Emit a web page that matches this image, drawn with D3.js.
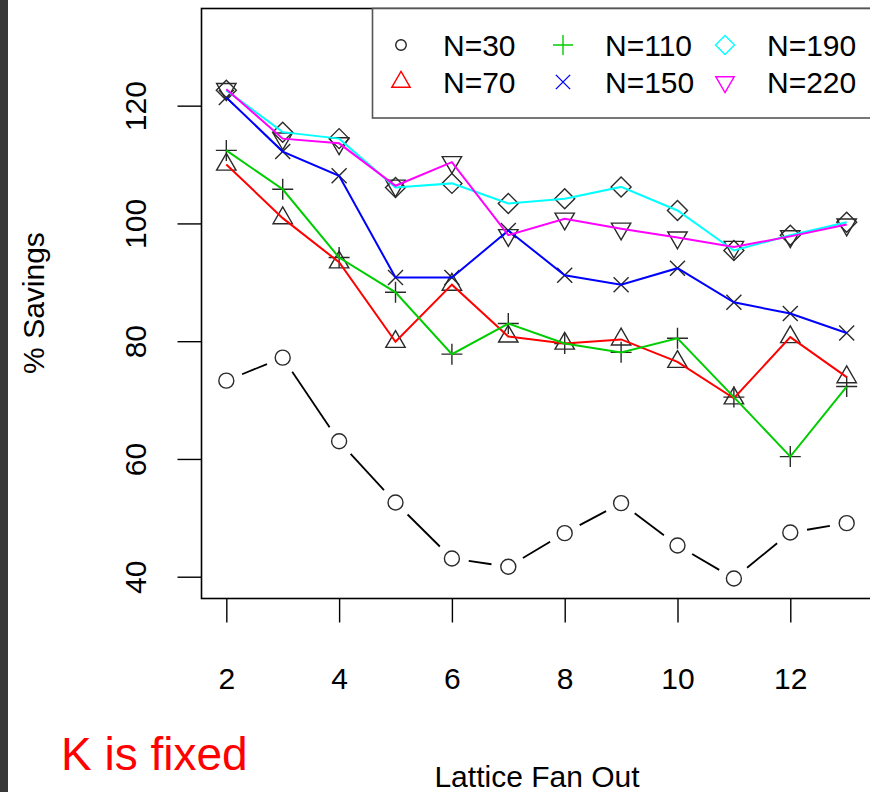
<!DOCTYPE html>
<html>
<head>
<meta charset="utf-8">
<script src="https://cdn.jsdelivr.net/npm/d3@7"></script>
<style>
  body { margin: 0; background: #fff; }
  text { font-family: "Liberation Sans", Arial, Helvetica, sans-serif; }
</style>
</head>
<body>
<div id="chart"></div>
<script>
// data
const fanOut = [2, 3, 4, 5, 6, 7, 8, 9, 10, 11, 12, 13];
const n30  = [73.3, 77.2, 63.0, 52.6, 43.1, 41.7, 47.4, 52.5, 45.3, 39.7, 47.5, 49.1];
const n70  = [110.0, 100.9, 93.4, 79.9, 89.6, 80.8, 79.6, 80.3, 76.5, 70.3, 80.7, 73.9];
const n110 = [112.4, 105.8, 94.2, 88.3, 77.8, 83.0, 79.6, 78.1, 80.5, 70.5, 60.4, 72.3];
const n150 = [121.4, 112.2, 108.1, 90.8, 90.8, 98.8, 91.2, 89.6, 92.4, 86.6, 84.7, 81.4];
const n190 = [122.6, 115.5, 114.4, 106.1, 106.8, 103.4, 104.2, 106.2, 102.2, 95.4, 98.0, 100.2];
const n220 = [122.8, 114.4, 113.6, 106.4, 110.4, 98.0, 100.8, 99.1, 97.6, 96.0, 97.8, 99.8];
const seriesNames = ["N=30", "N=70", "N=110", "N=150", "N=190", "N=220"];
const xTicks = [2, 4, 6, 8, 10, 12];
const yTicks = [40, 60, 80, 100, 120];

const series = [
  {name: seriesNames[0], values: n30,  color: "#000000", shape: "circle"},
  {name: seriesNames[1], values: n70,  color: "#ff0000", shape: "triangle"},
  {name: seriesNames[2], values: n110, color: "#00cd00", shape: "plus"},
  {name: seriesNames[3], values: n150, color: "#0000ff", shape: "cross"},
  {name: seriesNames[4], values: n190, color: "#00ffff", shape: "diamond"},
  {name: seriesNames[5], values: n220, color: "#ff00ff", shape: "invtriangle"}
];

const W = 870, H = 792;
const plotL = 201.5, plotR = 871.5, plotT = 8.5, plotB = 598.5;

const svg = d3.select("#chart").append("svg")
  .attr("width", W).attr("height", H);

svg.append("rect").attr("width", W).attr("height", H).attr("fill", "#fff");
svg.append("rect").attr("x", 0).attr("y", 0).attr("width", 8).attr("height", H).attr("fill", "#383838");

const x = d3.scaleLinear().domain([1.56, 13.44]).range([plotL, plotR]);
const y = d3.scaleLinear().domain([36.3, 136.5]).range([plotB, plotT]);

// marker shapes (R pch style), k scales the size
function shapePath(shape, k) {
  const p = d3.path();
  if (shape === "circle") {
    p.arc(0, 0, 7.5 * k, 0, 2 * Math.PI);
  } else if (shape === "triangle") {
    const r = 11.2 * k;
    p.moveTo(0, -r); p.lineTo(r * 0.866, r * 0.5); p.lineTo(-r * 0.866, r * 0.5); p.closePath();
  } else if (shape === "invtriangle") {
    const r = 11.2 * k;
    p.moveTo(0, r); p.lineTo(r * 0.866, -r * 0.5); p.lineTo(-r * 0.866, -r * 0.5); p.closePath();
  } else if (shape === "plus") {
    const r = 10.5 * k;
    p.moveTo(-r, 0); p.lineTo(r, 0); p.moveTo(0, -r); p.lineTo(0, r);
  } else if (shape === "cross") {
    const r = 7.5 * k;
    p.moveTo(-r, -r); p.lineTo(r, r); p.moveTo(-r, r); p.lineTo(r, -r);
  } else if (shape === "diamond") {
    const r = 10 * k;
    p.moveTo(0, -r); p.lineTo(r, 0); p.lineTo(0, r); p.lineTo(-r, 0); p.closePath();
  }
  return p.toString();
}

const plot = svg.append("g");

// markers first (dark), coloured lines on top
series.forEach(s => {
  plot.append("g").selectAll("path")
    .data(s.values)
    .enter().append("path")
    .attr("transform", (d, i) => `translate(${x(fanOut[i])},${y(d)})`)
    .attr("d", shapePath(s.shape, 1))
    .attr("fill", "none")
    .attr("stroke", "#2a2a2a")
    .attr("stroke-width", 1.4);
});

// N=30: type "b" line with gaps around the points
const gap = 17;
const segs = d3.pairs(n30.map((v, i) => [x(fanOut[i]), y(v)]));
plot.append("g").selectAll("line")
  .data(segs)
  .enter().append("line")
  .each(function (d) {
    const [a, b] = d;
    const dx = b[0] - a[0], dy = b[1] - a[1];
    const len = Math.hypot(dx, dy);
    const ux = dx / len, uy = dy / len;
    d3.select(this)
      .attr("x1", a[0] + ux * gap).attr("y1", a[1] + uy * gap)
      .attr("x2", b[0] - ux * gap).attr("y2", b[1] - uy * gap);
  })
  .attr("stroke", "#000").attr("stroke-width", 1.8);

const line = d3.line().x((d, i) => x(fanOut[i])).y(d => y(d));
series.slice(1).forEach(s => {
  plot.append("path")
    .datum(s.values)
    .attr("d", line)
    .attr("fill", "none")
    .attr("stroke", s.color)
    .attr("stroke-width", 2);
});

// box
svg.append("rect")
  .attr("x", plotL).attr("y", plotT)
  .attr("width", plotR - plotL).attr("height", plotB - plotT)
  .attr("fill", "none").attr("stroke", "#000").attr("stroke-width", 1.6);

// axes
const yAxis = svg.append("g")
  .attr("transform", `translate(${plotL},0)`)
  .call(d3.axisLeft(y).tickValues(yTicks).tickSize(24));
yAxis.select(".domain").remove();
yAxis.selectAll(".tick line").attr("stroke", "#000").attr("stroke-width", 1.4);
yAxis.selectAll(".tick text")
  .attr("x", null).attr("dy", null)
  .attr("transform", "translate(-56,0) rotate(-90)")
  .attr("text-anchor", "middle")
  .attr("font-size", 30).attr("fill", "#000")
  .attr("font-family", "Liberation Sans, Arial, sans-serif");

const xAxis = svg.append("g")
  .attr("transform", `translate(0,${plotB})`)
  .call(d3.axisBottom(x).tickValues(xTicks).tickSize(24));
xAxis.select(".domain").remove();
xAxis.selectAll(".tick line").attr("stroke", "#000").attr("stroke-width", 1.4);
xAxis.selectAll(".tick text")
  .attr("y", 90).attr("dy", null)
  .attr("font-size", 30).attr("fill", "#000")
  .attr("font-family", "Liberation Sans, Arial, sans-serif");

// axis titles
svg.append("text")
  .attr("transform", "translate(44,303) rotate(-90)")
  .attr("text-anchor", "middle")
  .attr("font-size", 30)
  .text("% Savings");

svg.append("text")
  .attr("x", 537).attr("y", 787)
  .attr("text-anchor", "middle")
  .attr("font-size", 30)
  .text("Lattice Fan Out");

svg.append("text")
  .attr("x", 61).attr("y", 770)
  .attr("font-size", 46)
  .attr("fill", "#ff0000")
  .text("K is fixed");

// legend
const legend = svg.append("g");
legend.append("rect")
  .attr("x", 372.5).attr("y", plotT)
  .attr("width", 520).attr("height", 118 - plotT)
  .attr("fill", "#fff").attr("stroke", "#555").attr("stroke-width", 1.6);

const colX = [401, 563, 725];
const rowY = [45, 82];
const item = legend.selectAll("g.item")
  .data(series)
  .enter().append("g")
  .attr("class", "item")
  .attr("transform", (d, i) => `translate(${colX[Math.floor(i / 2)]},${rowY[i % 2]})`);

item.append("path")
  .attr("d", d => d.shape === "circle" ? shapePath(d.shape, 0.7) : shapePath(d.shape, 0.95))
  .attr("fill", "none")
  .attr("stroke", d => d.color === "#000000" ? "#222" : d.color)
  .attr("stroke-width", 1.4);

item.append("text")
  .attr("x", 42).attr("dy", "0.36em")
  .attr("font-size", 30)
  .text(d => d.name);
</script>
</body>
</html>
